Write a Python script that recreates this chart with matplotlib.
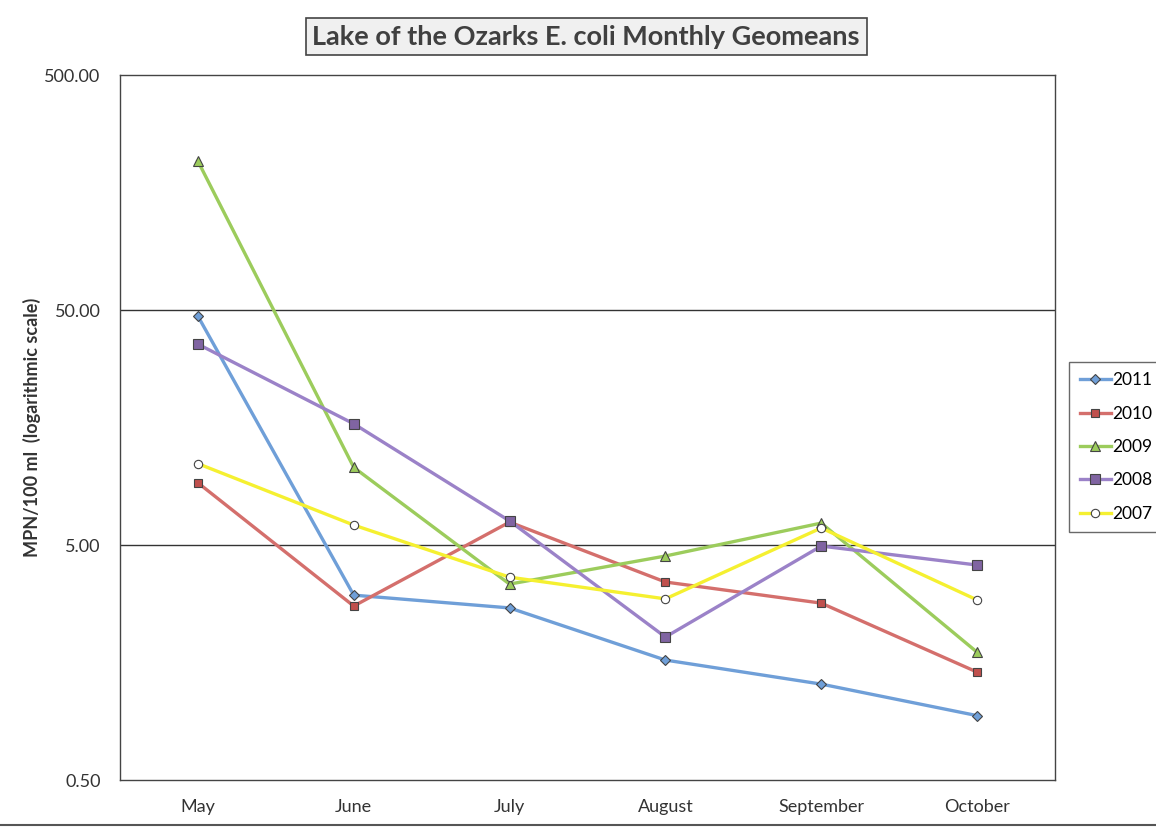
import matplotlib.pyplot as plt
from matplotlib.ticker import FixedLocator, FixedFormatter, NullLocator

plt.rcParams['font.family'] = ['Lato', 'DejaVu Sans']

months = ['May', 'June', 'July', 'August', 'September', 'October']
y2011 = [47.1, 3.06, 2.70, 1.62, 1.28, 0.94]
y2010 = [9.2, 2.75, 6.26, 3.48, 2.83, 1.44]
y2009 = [215, 10.7, 3.41, 4.49, 6.20, 1.75]
y2008 = [35.8, 16.4, 6.33, 2.03, 4.95, 4.11]
y2007 = [11.1, 6.08, 3.65, 2.95, 5.91, 2.92]
ytick_vals = [0.5, 5, 50, 500]
ytick_labels = ['0.50', '5.00', '50.00', '500.00']

series = [
    ('2011', y2011, '#6f9fd8', 'D', '#6f9fd8', 5),
    ('2010', y2010, '#d46f6c', 's', '#c0504d', 6),
    ('2009', y2009, '#9ccc5c', '^', '#9ccc5c', 7),
    ('2008', y2008, '#9b82c8', 's', '#8064a2', 7),
    ('2007', y2007, '#f5f030', 'o', 'white', 6),
]

fig = plt.figure(figsize=(11.56, 8.30), dpi=100)
ax = fig.add_axes([0.1038, 0.0602, 0.8088, 0.8494])

x = list(range(len(months)))
for label, vals, color, marker, face, ms in series:
    ax.plot(x, vals, color=color, linewidth=2.4, marker=marker, markersize=ms,
            markerfacecolor=face, markeredgecolor='#444444', markeredgewidth=0.8,
            label=label, zorder=3)

ax.set_yscale('log')
ax.set_ylim(0.5, 500)
ax.set_xlim(-0.5, 5.5)
ax.yaxis.set_major_locator(FixedLocator(ytick_vals))
ax.yaxis.set_major_formatter(FixedFormatter(ytick_labels))
ax.yaxis.set_minor_locator(NullLocator())
ax.set_xticks(x)
ax.set_xticklabels(months)
ax.tick_params(axis='both', length=0, labelsize=13, colors='#333333')
ax.tick_params(axis='x', pad=14)
ax.tick_params(axis='y', pad=14)
for val in [5, 50]:
    ax.axhline(val, color='#333333', linewidth=1.0, zorder=1)
for sp in ax.spines.values():
    sp.set_color('#444444')
    sp.set_linewidth(1.0)

ax.set_ylabel('MPN/100 ml  (logarithmic scale)', fontsize=13, fontweight='bold',
              color='#333333')
ax.yaxis.set_label_coords(-0.085, 0.5)

fig.text(0.507, 0.956, 'Lake of the Ozarks E. coli Monthly Geomeans', ha='center', va='center',
         fontsize=19.5, fontweight='bold', color='#404040',
         bbox=dict(boxstyle='square,pad=0.25', facecolor='#f0f0f0', edgecolor='#444444', linewidth=1.2))

leg = fig.legend(loc='upper left', bbox_to_anchor=(0.925, 0.564), fontsize=12.5,
                 frameon=True, fancybox=False, edgecolor='#444444',
                 handlelength=1.8, labelspacing=1.0, borderpad=0.6, borderaxespad=0,
                 handletextpad=0.1)
leg.get_frame().set_linewidth(1.0)

fig.add_artist(plt.Line2D([0, 1], [0.006, 0.006], color='#555555', linewidth=1.5))

fig.savefig('out.png', dpi=100, facecolor='white')
